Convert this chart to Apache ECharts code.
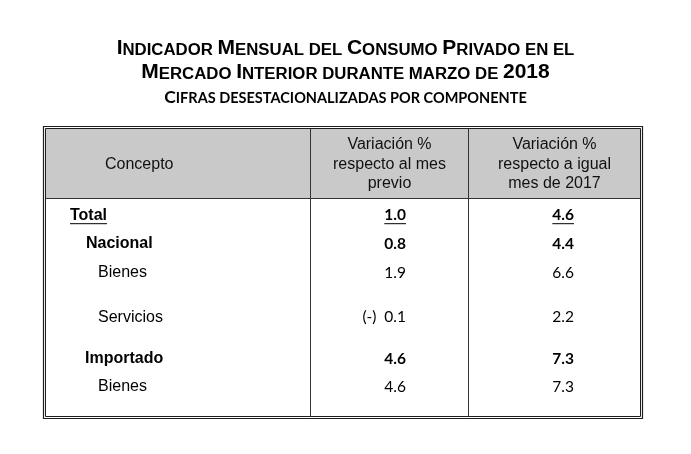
<!DOCTYPE html>
<html><head><meta charset="utf-8">
<script src="https://cdn.jsdelivr.net/npm/echarts@6/dist/echarts.min.js"></script>
<style>html,body{margin:0;padding:0;background:#fff}#c{width:691px;height:454px}</style>
</head><body><div id="c"></div>
<script>
// ---- data ----
const conceptos = ['Total', 'Nacional', 'Bienes', 'Servicios', 'Importado', 'Bienes'];
const niveles = [0, 1, 2, 2, 1, 2];
const variacionMensual = [1.0, 0.8, 1.9, -0.1, 4.6, 4.6];
const variacionAnual = [4.6, 4.4, 6.6, 2.2, 7.3, 7.3];
const encabezados = ['Concepto', 'Variación %\nrespecto al mes\nprevio', 'Variación %\nrespecto a igual\nmes de 2017'];
const titulo1 = '{b|I}{s|NDICADOR }{b|M}{s|ENSUAL DEL }{b|C}{s|ONSUMO }{b|P}{s|RIVADO EN EL}';
const titulo2 = '{b|M}{s|ERCADO }{b|I}{s|NTERIOR DURANTE MARZO DE }{b|2018}';
const subtitulo = '{b|C}{s|IFRAS DESESTACIONALIZADAS POR COMPONENTE}';

// ---- layout ----
const LAY = {
  outer: [43.5, 126.5, 642.5, 418.5],
  inner: [45.5, 128.5, 640.5, 416.5],
  headBottom: 198.5,
  cols: [310.5, 468.5],
  rowBase: [220.7, 249.3, 278, 322.7, 364.3, 392.3],
  indent: [70, 86, 98],
  numRight: [406, 574]
};
const ARIAL = '"Liberation Sans", Arial, sans-serif';
const NUMF = 'Lato, "Open Sans", sans-serif';

const mctx = document.createElement('canvas').getContext('2d');
function measure(font, txt) { mctx.font = font; return mctx.measureText(txt).width; }
function fmt(v) { return v < 0 ? '(-)  ' + Math.abs(v).toFixed(1) : v.toFixed(1); }

const chart = echarts.init(document.getElementById('c'), null, {renderer: 'canvas'});

function P(api, x, y) { return api.coord([x, y]); }

function frameRender(params, api) {
  const o1 = P(api, LAY.outer[0], LAY.outer[1]), o2 = P(api, LAY.outer[2], LAY.outer[3]);
  const i1 = P(api, LAY.inner[0], LAY.inner[1]), i2 = P(api, LAY.inner[2], LAY.inner[3]);
  const hb = P(api, 0, LAY.headBottom)[1];
  const children = [];
  children.push({type: 'rect', shape: {x: i1[0] + 0.5, y: i1[1] + 0.5, width: i2[0] - i1[0] - 1, height: hb - i1[1] - 0.5}, style: {fill: '#c9c9c9'}});
  const stroke = {stroke: '#1e1e1e', lineWidth: 1, fill: null};
  children.push({type: 'rect', shape: {x: o1[0], y: o1[1], width: o2[0] - o1[0], height: o2[1] - o1[1]}, style: Object.assign({}, stroke, {lineWidth: 1.2})});
  children.push({type: 'rect', shape: {x: i1[0], y: i1[1], width: i2[0] - i1[0], height: i2[1] - i1[1]}, style: stroke});
  children.push({type: 'line', shape: {x1: i1[0], y1: hb, x2: i2[0], y2: hb}, style: {stroke: '#333', lineWidth: 1}});
  LAY.cols.forEach(cx => {
    const p = P(api, cx, 0)[0];
    children.push({type: 'line', shape: {x1: p, y1: i1[1], x2: p, y2: i2[1]}, style: {stroke: '#333', lineWidth: 1}});
  });
  // headers
  const colX = [i1[0], P(api, LAY.cols[0], 0)[0], P(api, LAY.cols[1], 0)[0], i2[0]];
  const midY = (i1[1] + hb) / 2;
  encabezados.forEach((h, k) => {
    const cx = k === 0 ? P(api, 105, 0)[0] : (colX[k] + colX[k + 1]) / 2;
    children.push({type: 'text', style: {text: h, x: cx, y: midY + 1, fill: '#111', font: '16px ' + ARIAL, align: k === 0 ? 'left' : 'center', verticalAlign: 'middle', lineHeight: 19.5}});
  });
  return {type: 'group', children};
}

function rowRender(params, api) {
  const i = api.value(0);
  const lvl = niveles[i];
  const bold = lvl < 2;
  const base = P(api, 0, LAY.rowBase[i])[1];
  const children = [];
  const cf = (bold ? 'bold ' : '') + '16px ' + ARIAL;
  const x0 = P(api, lvl === 1 && conceptos[i] === 'Importado' ? 85 : LAY.indent[lvl], 0)[0];
  children.push({type: 'text', style: {text: conceptos[i], x: x0, y: base - 5.5, font: cf, fill: '#000', align: 'left', verticalAlign: 'middle'}});
  if (lvl === 0) {
    const w = measure(cf, conceptos[i]);
    children.push({type: 'line', shape: {x1: x0, y1: base + 3, x2: x0 + w, y2: base + 3}, style: {stroke: '#000', lineWidth: 1}});
  }
  const nf = (bold ? 'bold ' : '') + '15.5px ' + NUMF;
  [variacionMensual[i], variacionAnual[i]].forEach((v, k) => {
    const xr = P(api, LAY.numRight[k], 0)[0];
    const t = fmt(v);
    children.push({type: 'text', style: {text: t, x: xr, y: base - 5.5, font: nf, fill: '#000', align: 'right', verticalAlign: 'middle'}});
    if (lvl === 0) {
      const w = measure(nf, t);
      children.push({type: 'line', shape: {x1: xr - w, y1: base + 3, x2: xr, y2: base + 3}, style: {stroke: '#000', lineWidth: 1}});
    }
  });
  return {type: 'group', children};
}

const bigS = {fontFamily: ARIAL, fontWeight: 'bold', color: '#000', verticalAlign: 'bottom'};
const calS = {fontFamily: 'Lato', fontWeight: 'bold', color: '#000', verticalAlign: 'bottom'};
chart.setOption({
  animation: false,
  title: [
    {text: titulo1, left: 'center', top: 35, padding: 0, textStyle: {fontSize: 21, rich: {
      b: Object.assign({}, bigS, {fontSize: 21, lineHeight: 24}), s: Object.assign({}, bigS, {fontSize: 16.8, lineHeight: 24})}}},
    {text: titulo2, left: 'center', top: 59, padding: 0, textStyle: {fontSize: 21, rich: {
      b: Object.assign({}, bigS, {fontSize: 21, lineHeight: 24}), s: Object.assign({}, bigS, {fontSize: 16.8, lineHeight: 24})}}},
    {text: subtitulo, left: 'center', top: 86, padding: 0, textStyle: {fontSize: 17.5, rich: {
      b: Object.assign({}, calS, {fontSize: 17.5, lineHeight: 20}), s: Object.assign({}, calS, {fontSize: 14.5, lineHeight: 20})}}}
  ],
  grid: {left: 0, right: 0, top: 0, bottom: 0},
  xAxis: {type: 'value', min: 0, max: 691, show: false},
  yAxis: {type: 'value', min: 0, max: 454, inverse: true, show: false},
  series: [
    {type: 'custom', name: 'marco', data: [[0]], renderItem: frameRender, silent: true, z: 1},
    {type: 'custom', name: 'filas', data: conceptos.map((c, i) => [i]), renderItem: rowRender, silent: true, z: 2}
  ]
});
</script>
</body></html>
